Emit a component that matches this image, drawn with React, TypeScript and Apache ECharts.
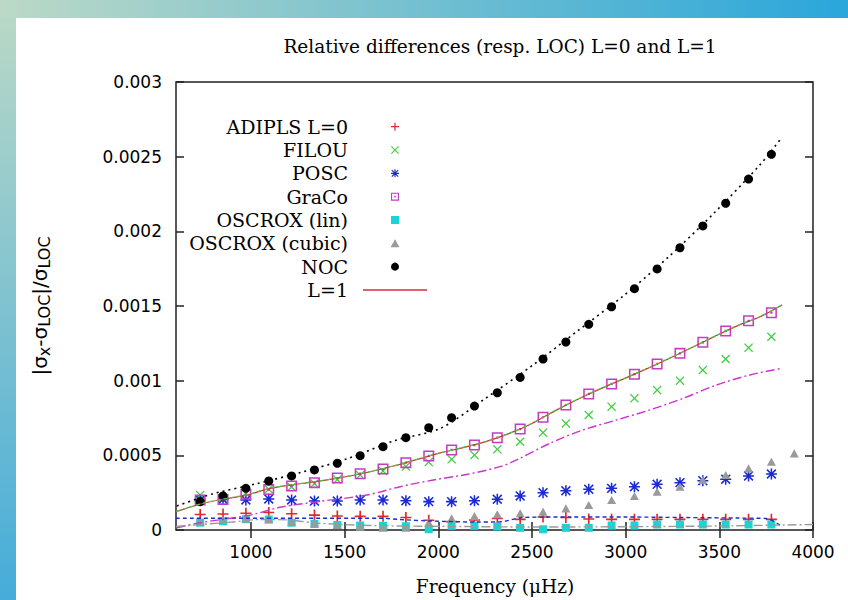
import React, { useEffect, useRef } from "react";
import * as echarts from "echarts";

// L=0 mode frequencies (μHz)
const freqL0 = [729, 851, 973, 1095, 1217, 1339, 1461, 1583, 1705, 1827, 1949, 2071, 2193, 2315, 2437, 2559, 2681, 2803, 2925, 3047, 3168, 3290, 3412, 3534, 3656, 3778];
const freqCubic = [729, 851, 973, 1095, 1217, 1339, 1461, 1583, 1705, 1827, 1949, 2071, 2193, 2315, 2437, 2559, 2681, 2803, 2925, 3047, 3168, 3290, 3412, 3534, 3656, 3778, 3900];

const adiplsL0 = [0.000104, 0.000107, 0.000112, 0.000117, 0.000109, 0.0001, 0.0000937, 0.0000917, 0.0000917, 0.0000837, 0.000065, 0.0000556, 0.000067, 0.000077, 0.0000716, 0.000087, 0.0000837, 0.0000737, 0.0000716, 0.0000716, 0.0000716, 0.0000716, 0.0000716, 0.0000716, 0.0000716, 0.0000716];
const filou = [0.000234, 0.000214, 0.000248, 0.000273, 0.000288, 0.000311, 0.000338, 0.000368, 0.000395, 0.000425, 0.000455, 0.000473, 0.000502, 0.00054, 0.000591, 0.000652, 0.000714, 0.00077, 0.000826, 0.000882, 0.000937, 0.001, 0.001071, 0.001145, 0.001221, 0.001294];
const posc = [0.000201, 0.000205, 0.000201, 0.000208, 0.000201, 0.000194, 0.000194, 0.000201, 0.000201, 0.000196, 0.00019, 0.00019, 0.000196, 0.000206, 0.000228, 0.00025, 0.000263, 0.000273, 0.000279, 0.00029, 0.000306, 0.000317, 0.00033, 0.00034, 0.000362, 0.000375];
const graco = [0.000201, 0.000205, 0.000239, 0.000271, 0.000295, 0.000317, 0.000348, 0.000377, 0.000408, 0.000451, 0.000496, 0.000536, 0.000569, 0.000618, 0.000676, 0.000755, 0.000837, 0.000911, 0.000978, 0.001043, 0.001112, 0.001183, 0.001257, 0.001333, 0.001401, 0.001455];
const oscroxLin = [0.0000489, 0.0000583, 0.0000723, 0.0000703, 0.0000489, 0.0000402, 0.0000335, 0.0000301, 0.0000281, 0.0000248, 0.000005, 0.000028, 0.000028, 0.0000234, 0.0000147, 0.0000047, 0.0000147, 0.0000147, 0.00003, 0.00003, 0.0000368, 0.0000368, 0.0000368, 0.0000368, 0.0000368, 0.0000368];
const oscroxCubic = [0.0000556, 0.000067, 0.000078, 0.0000716, 0.0000556, 0.0000449, 0.0000335, 0.0000221, 0.0000154, 0.0000154, 0.00005, 0.000078, 0.000094, 0.000105, 0.000112, 0.000123, 0.000145, 0.000167, 0.000201, 0.000228, 0.000257, 0.00029, 0.000335, 0.000368, 0.000413, 0.000457, 0.000513];
const noc = [0.00019, 0.000228, 0.000279, 0.000328, 0.000362, 0.000402, 0.000447, 0.000498, 0.000558, 0.000618, 0.000685, 0.000752, 0.00083, 0.000919, 0.001022, 0.001145, 0.001259, 0.001377, 0.001495, 0.001616, 0.001748, 0.00189, 0.002036, 0.002188, 0.00235, 0.002516];

// L=1 curves: [frequency, value]
const l1Adipls = [[600, 0.000123], [747, 0.000179], [870, 0.00021], [979, 0.000234], [1103, 0.000279], [1280, 0.000313], [1459, 0.000346], [1636, 0.00039], [1766, 0.00043], [1888, 0.000473], [2010, 0.000516], [2132, 0.000552], [2254, 0.000592], [2376, 0.000645], [2498, 0.000712], [2620, 0.000796], [2742, 0.000874], [2864, 0.000945], [2986, 0.00101], [3108, 0.001077], [3229, 0.001147], [3351, 0.00122], [3473, 0.001295], [3595, 0.001367], [3717, 0.001428], [3835, 0.001507]];
const l1Filou = [[600, 0.000125], [747, 0.00018], [870, 0.000211], [979, 0.000236], [1103, 0.00028], [1280, 0.000314], [1459, 0.000347], [1636, 0.000391], [1766, 0.000431], [1888, 0.000474], [2010, 0.000517], [2132, 0.000553], [2254, 0.000593], [2376, 0.000646], [2498, 0.000713], [2620, 0.000797], [2742, 0.000875], [2864, 0.000946], [2986, 0.001011], [3108, 0.001078], [3229, 0.001148], [3351, 0.001221], [3473, 0.001296], [3595, 0.001368], [3717, 0.001429], [3835, 0.001508]];
const l1Posc = [[600, 0.0000783], [1700, 0.0000783], [1800, 0.00007], [1960, 0.00006], [2200, 0.0000536], [2330, 0.000055], [2450, 0.0000837], [2700, 0.000087], [3000, 0.000087], [3300, 0.0000837], [3600, 0.00008], [3750, 0.000077], [3830, 0.000027]];
const l1Graco = [[605, 0.0000154], [730, 0.0000489], [996, 0.0001], [1156, 0.000152], [1352, 0.000189], [1618, 0.000234], [1796, 0.00029], [1974, 0.000335], [2152, 0.000372], [2329, 0.000424], [2418, 0.000469], [2596, 0.000581], [2773, 0.00067], [2952, 0.000737], [3129, 0.000804], [3307, 0.000882], [3485, 0.000971], [3663, 0.001038], [3835, 0.001083]];
const l1Oscrox = [[600, 0.0000234], [900, 0.0000536], [1050, 0.00007], [1200, 0.000067], [1350, 0.0000469], [1550, 0.0000335], [1800, 0.0000268], [2100, 0.0000234], [2500, 0.00002], [3000, 0.000022], [3500, 0.0000268], [4000, 0.0000368]];
const l1Noc = [[605, 0.000161], [790, 0.00024], [1030, 0.00031], [1280, 0.00039], [1520, 0.00048], [1770, 0.0006], [2010, 0.00068], [2250, 0.00088], [2500, 0.0011], [2740, 0.00133], [2990, 0.00157], [3230, 0.00183], [3470, 0.00212], [3720, 0.00245], [3830, 0.002623]];

const xTicks = [1000, 1500, 2000, 2500, 3000, 3500, 4000];
const legendNames = ["ADIPLS L=0", "FILOU", "POSC", "GraCo", "OSCROX (lin)", "OSCROX (cubic)", "NOC", "L=1"];

const PLUS = "path://M4.25,0H5.75V4.25H10V5.75H5.75V10H4.25V5.75H0V4.25H4.25Z";
const CROSS = "path://M0,1L1,0L5,4L9,0L10,1L6,5L10,9L9,10L5,6L1,10L0,9L4,5Z";
const STAR = "path://M4.3,0H5.7V4.3H10V5.7H5.7V10H4.3V5.7H0V4.3H4.3Z M0.5,1.5L1.5,0.5L5,4L8.5,0.5L9.5,1.5L6,5L9.5,8.5L8.5,9.5L5,6L1.5,9.5L0.5,8.5L4,5Z";
const BOXDOT = "path://M0,0H10V10H0Z M1.4,1.4V8.6H8.6V1.4Z M4,4H6V6H4Z";
const SQUARE = "path://M0,0H10V10H0Z";
const TRI = "path://M5,0L10,9H0Z";
const LINEICON = "path://M0,0H64V1.3H0Z";

const SERIF = "DejaVu Serif";
const SANS = "DejaVu Sans";

const zip = (fs: number[], vs: number[]) => fs.map((f, i) => [f, vs[i]]);

export default function App() {
  const ref = useRef<HTMLDivElement>(null);
  useEffect(() => {
    if (!ref.current) return;
    const chart = echarts.init(ref.current, null, { renderer: "svg" });
    const scatter = (name: string, data: number[][], symbol: string, size: number, color: string) => ({
      type: "scatter", name, data, symbol, symbolSize: size, symbolKeepAspect: true,
      itemStyle: { color, opacity: 1 }, z: 3,
    });
    const line = (name: string, data: number[][], color: string, type: any, width = 1.2) => ({
      type: "line", name, data, symbol: "none", showSymbol: false, smooth: 0.3,
      lineStyle: { color, type, width }, itemStyle: { color }, z: 4,
    });
    const option: any = {
      animation: false,
      backgroundColor: "#ffffff",
      graphic: [
        { type: "rect", left: 0, top: 0, shape: { x: 0, y: 0, width: 16, height: 600 }, silent: true,
          style: { fill: new echarts.graphic.LinearGradient(0, 0, 0, 1, [{ offset: 0, color: "#bcd9c6" }, { offset: 1, color: "#46acd9" }]) } },
        { type: "rect", left: 0, top: 0, shape: { x: 0, y: 0, width: 848, height: 18 }, silent: true,
          style: { fill: new echarts.graphic.LinearGradient(0, 0, 1, 0, [{ offset: 0, color: "#bcd9c6" }, { offset: 1, color: "#2aa6db" }]) } },
        { type: "text", x: 500, y: 46, silent: true,
          style: { text: "Relative differences (resp. LOC) L=0 and L=1", fontFamily: SERIF, fontSize: 18.5, fill: "#000", align: "center", verticalAlign: "middle" } },
        { type: "text", x: 495, y: 586, silent: true,
          style: { text: "Frequency (μHz)", fontFamily: SERIF, fontSize: 18.5, fill: "#000", align: "center", verticalAlign: "middle" } },
        { type: "text", x: 40, y: 306, rotation: Math.PI / 2, silent: true,
          style: {
            text: "{n||σ}{s|x}{n|-σ}{s|LOC}{n||/σ}{s|LOC}",
            align: "center", verticalAlign: "middle",
            rich: {
              n: { fontFamily: SANS, fontSize: 20, lineHeight: 24, fill: "#000", verticalAlign: "middle" },
              s: { fontFamily: SANS, fontSize: 16, lineHeight: 16, fill: "#000", verticalAlign: "bottom", padding: [6, 0, 0, 0] },
            },
          } },
      ],
      grid: { left: 176, top: 82, width: 637, height: 448, show: true, borderColor: "#222", borderWidth: 1.5, backgroundColor: "transparent", containLabel: false, outerBoundsMode: "none" },
      legend: {
        data: legendNames.map((n) => (n === "L=1" ? { name: n, icon: LINEICON } : { name: n })),
        orient: "vertical", align: "right", right: 421, top: 115, symbolKeepAspect: true,
        itemWidth: 64, itemHeight: 8, itemGap: 0, padding: 0, selectedMode: false,
        formatter: (n: string) => "{a|" + n + "}",
        textStyle: {
          fontFamily: SERIF, fontSize: 19, color: "#000", lineHeight: 23.33,
          rich: { a: { fontFamily: SERIF, fontSize: 19, color: "#000", lineHeight: 23.33, padding: [0, 10, 0, 0] } },
        },
      },
      xAxis: [
        { type: "value", min: 600, max: 4000, position: "bottom", axisLine: { show: false }, splitLine: { show: false },
          axisTick: { show: true, inside: true, length: 8, customValues: xTicks, lineStyle: { color: "#222", width: 1.5 } },
          axisLabel: { customValues: xTicks, margin: 13, color: "#000", fontFamily: SANS, fontSize: 17, formatter: (v: number) => String(v) } },
        { type: "value", min: 600, max: 4000, position: "top", axisLine: { show: false }, splitLine: { show: false },
          axisTick: { show: true, inside: true, length: 8, customValues: xTicks, lineStyle: { color: "#222", width: 1.5 } },
          axisLabel: { show: false } },
      ],
      yAxis: [
        { type: "value", min: 0, max: 0.003, interval: 0.0005, position: "left", axisLine: { show: false }, splitLine: { show: false },
          axisTick: { show: true, inside: true, length: 8, lineStyle: { color: "#222", width: 1.5 } },
          axisLabel: { margin: 14, color: "#000", fontFamily: SANS, fontSize: 17, formatter: (v: number) => String(+v.toFixed(4)) } },
        { type: "value", min: 0, max: 0.003, interval: 0.0005, position: "right", axisLine: { show: false }, splitLine: { show: false },
          axisTick: { show: true, inside: true, length: 8, lineStyle: { color: "#222", width: 1.5 } },
          axisLabel: { show: false } },
      ],
      series: [
        scatter("ADIPLS L=0", zip(freqL0, adiplsL0), PLUS, 11, "#e02828"),
        scatter("FILOU", zip(freqL0, filou), CROSS, 9, "#44cc44"),
        scatter("POSC", zip(freqL0, posc), STAR, 11, "#1a2ad4"),
        scatter("GraCo", zip(freqL0, graco), BOXDOT, 11, "#c43cc4"),
        scatter("OSCROX (lin)", zip(freqL0, oscroxLin), SQUARE, 8, "#19d4d4"),
        scatter("OSCROX (cubic)", zip(freqCubic, oscroxCubic), TRI, 9, "#9a9a9a"),
        scatter("NOC", zip(freqL0, noc), "circle", 9, "#000000"),
        line("L=1", l1Adipls, "#d03030", "solid", 1.2),
        line("FILOU L=1", l1Filou, "#44cc44", [4, 3], 1.2),
        line("POSC L=1", l1Posc, "#1a2ad4", [4, 3], 1.4),
        line("GraCo L=1", l1Graco, "#cc33cc", [9, 3, 2, 3], 1.4),
        line("OSCROX L=1", l1Oscrox, "#9a9a9a", [9, 3, 2, 3], 1.4),
        line("NOC L=1", l1Noc, "#000000", [2, 4], 1.6),
      ],
    };
    chart.setOption(option);
    return () => chart.dispose();
  }, []);
  return <div ref={ref} style={{ position: "absolute", left: 0, top: 0, width: 848, height: 600, background: "#fff" }} />;
}
